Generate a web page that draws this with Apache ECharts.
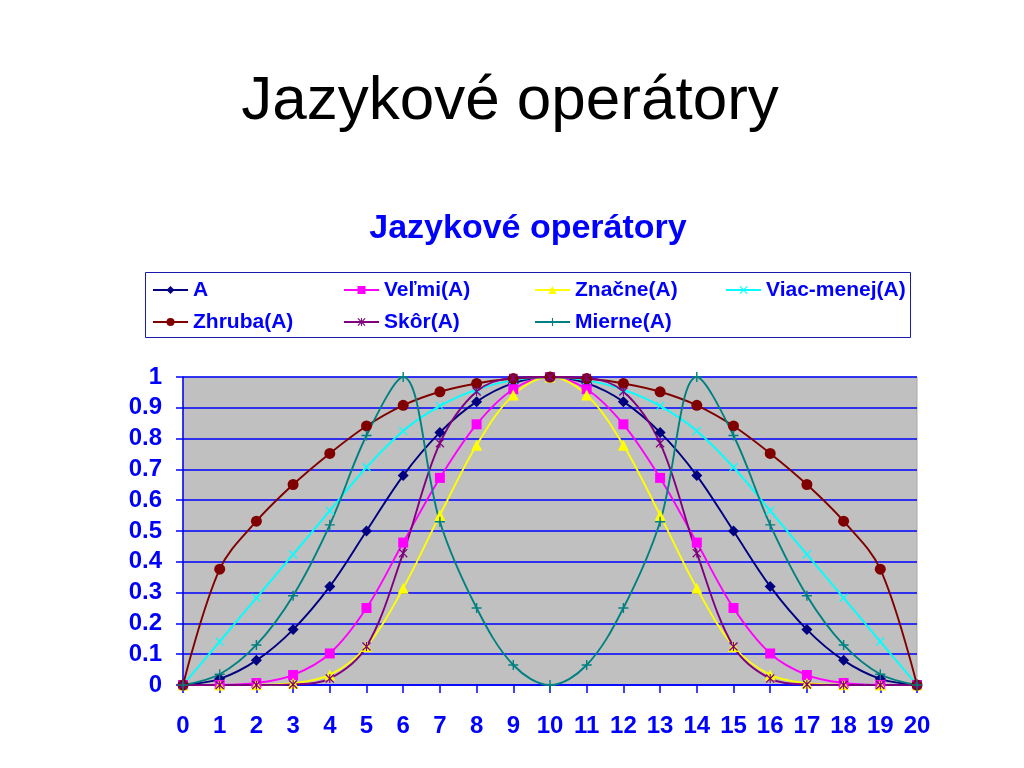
<!DOCTYPE html>
<html>
<head>
<meta charset="utf-8">
<script src="https://cdn.jsdelivr.net/npm/echarts@6/dist/echarts.min.js"></script>
<style>
html,body{margin:0;padding:0;background:#fff;}
#chart{width:1024px;height:768px;}
</style>
</head>
<body>
<div id="chart"></div>
<script>
var categories = ['0','1','2','3','4','5','6','7','8','9','10','11','12','13','14','15','16','17','18','19','20'];
var yTicks = [0,0.1,0.2,0.3,0.4,0.5,0.6,0.7,0.8,0.9,1];

var seriesNames = ['A','Veľmi(A)','Značne(A)','Viac-menej(A)','Zhruba(A)','Skôr(A)','Mierne(A)'];

var valA      = [0,0.02,0.08,0.18,0.32,0.5,0.68,0.82,0.92,0.98,1,0.98,0.92,0.82,0.68,0.5,0.32,0.18,0.08,0.02,0];
var valVelmi  = [0,0.0004,0.0064,0.0324,0.1024,0.25,0.4624,0.6724,0.8464,0.9604,1,0.9604,0.8464,0.6724,0.4624,0.25,0.1024,0.0324,0.0064,0.0004,0];
var valZnacne = [0,0.00001,0.0005,0.0058,0.0328,0.125,0.3144,0.5514,0.7787,0.9412,1,0.9412,0.7787,0.5514,0.3144,0.125,0.0328,0.0058,0.0005,0.00001,0];
var valViac   = [0,0.141,0.283,0.424,0.566,0.707,0.825,0.906,0.959,0.99,1,0.99,0.959,0.906,0.825,0.707,0.566,0.424,0.283,0.141,0];
var valZhruba = [0,0.376,0.532,0.651,0.752,0.841,0.908,0.952,0.979,0.995,1,0.995,0.979,0.952,0.908,0.841,0.752,0.651,0.532,0.376,0];
var valSkor   = [0,0,0.0001,0.002,0.021,0.125,0.428,0.785,0.953,0.997,1,0.997,0.953,0.785,0.428,0.125,0.021,0.002,0.0001,0,0];
var valMierne = [0,0.035,0.13,0.29,0.52,0.81,1,0.53,0.25,0.065,0,0.065,0.25,0.53,1,0.81,0.52,0.29,0.13,0.035,0];

var seriesValues = [valA,valVelmi,valZnacne,valViac,valZhruba,valSkor,valMierne];
var colors = ['#000080','#FF00FF','#FFFF00','#00FFFF','#800000','#800080','#008080'];
var symX = 'path://M1,0L5,4L9,0L10,1L6,5L10,9L9,10L5,6L1,10L0,9L4,5L0,1Z';
var symStar = 'path://M1,0L5,4L9,0L10,1L6,5L10,9L9,10L5,6L1,10L0,9L4,5L0,1Z M4.4,0H5.6V10H4.4Z';
var symPlus = 'path://M4.3,0H5.7V4.3H10V5.7H5.7V10H4.3V5.7H0V4.3H4.3Z';
var symbols = ['diamond','rect','triangle',symX,'circle',symStar,symPlus];
var symbolSizes = [11,10,11,9,11,9,10];

var chart = echarts.init(document.getElementById('chart'));
var series = seriesNames.map(function(n,i){
  return {
    name:n, type:'line', data:seriesValues[i], smooth:0.35,
    symbol:symbols[i], symbolSize:symbolSizes[i], showAllSymbol:true,
    lineStyle:{color:colors[i], width:1.9},
    itemStyle:{color:colors[i], borderWidth:0},
    emphasis:{disabled:true}, animation:false
  };
});

var option = {
  animation:false,
  color:colors,
  graphic:[
    {type:'text', style:{x:510, y:102, text:'Jazykové operátory', font:'normal 62px "Liberation Sans", Arial, sans-serif', fill:'#000', textAlign:'center', textVerticalAlign:'middle'}},
    {type:'text', style:{x:528, y:229, text:'Jazykové operátory', font:'bold 34px "Liberation Sans", Arial, sans-serif', fill:'#0000FF', textAlign:'center', textVerticalAlign:'middle'}},
    {type:'rect', shape:{x:145.5, y:272.5, width:765, height:65}, style:{fill:'none', stroke:'#1a1ab0', lineWidth:1}, z:-1}
  ],
  legend:{
    left:152, top:279, width:770, orient:'horizontal', padding:0,
    itemWidth:35, itemHeight:10, itemGap:10,
    data:seriesNames,
    textStyle:{color:'#0000FF', fontWeight:'bold', fontSize:21, fontFamily:'"Liberation Sans", Arial, sans-serif', width:140, lineHeight:22},
    selectedMode:false
  },
  grid:{left:183, right:107, top:377, bottom:83, show:true, backgroundColor:'#C0C0C0', borderWidth:1, borderColor:'#A8A8A8', containLabel:false},
  xAxis:{
    type:'category', data:categories, boundaryGap:false,
    axisLine:{lineStyle:{color:'#0000FF', width:1.5}},
    axisTick:{show:true, length:8, interval:0, lineStyle:{color:'#0000FF', width:1.5}},
    axisLabel:{interval:0, margin:29, color:'#0000FF', fontWeight:'bold', fontSize:24, fontFamily:'"Liberation Sans", Arial, sans-serif'},
    splitLine:{show:false}
  },
  yAxis:{
    type:'value', min:yTicks[0], max:yTicks[yTicks.length-1], interval:0.1,
    axisLine:{show:true, lineStyle:{color:'#0000FF', width:1.5}},
    axisTick:{show:true, length:7, lineStyle:{color:'#0000FF', width:1.5}},
    axisLabel:{margin:21, color:'#0000FF', fontWeight:'bold', fontSize:24, fontFamily:'"Liberation Sans", Arial, sans-serif'},
    splitLine:{show:true, lineStyle:{color:'#0000FF', width:1.5}}
  },
  series:series
};
chart.setOption(option);
</script>
</body>
</html>
